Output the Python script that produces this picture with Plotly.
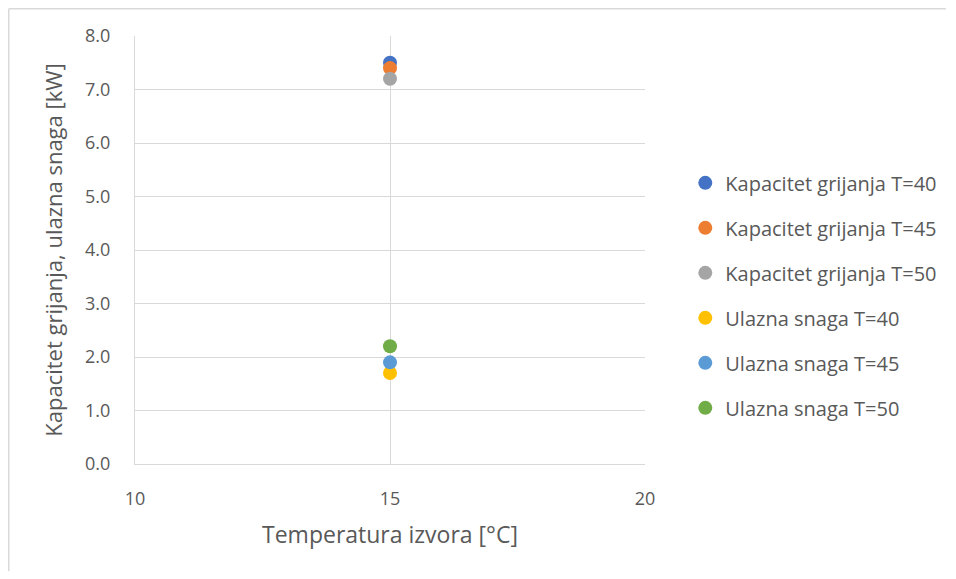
import plotly.graph_objects as go

# Series data
series_names = [
    "Kapacitet grijanja T=40",
    "Kapacitet grijanja T=45",
    "Kapacitet grijanja T=50",
    "Ulazna snaga T=40",
    "Ulazna snaga T=45",
    "Ulazna snaga T=50",
]
temperature = [15, 15, 15, 15, 15, 15]
power_kw = [7.5, 7.4, 7.2, 1.7, 1.9, 2.2]
colors = ["#4472C4", "#ED7D31", "#A5A5A5", "#FFC000", "#5B9BD5", "#70AD47"]

text_color = "#595959"
grid_color = "#D9D9D9"
font_family = "Open Sans, Noto Sans, sans-serif"

fig = go.Figure()

# One trace per series so the legend lists them all
for name, x, y, c in zip(series_names, temperature, power_kw, colors):
    fig.add_trace(go.Scatter(
        x=[x], y=[y],
        mode="markers",
        marker=dict(size=14, color=c),
        name=name,
        legendgroup=name,
    ))

# Outer chart border (Excel chart area) - only top and left edges are in view
border = dict(color="#D9D9D9", width=1.5)
fig.add_shape(type="line", xref="paper", yref="paper",
              x0=-0.2475, x1=1.59, y0=1.0637, y1=1.0637, line=border, layer="below")
fig.add_shape(type="line", xref="paper", yref="paper",
              x0=-0.2475, x1=-0.2475, y0=-0.3, y1=1.0637, line=border, layer="below")

# sized so the page (with its 8px body margin) does not overflow the window
fig.update_layout(
    width=940, height=563,
    margin=dict(l=127, r=303, t=28, b=107, autoexpand=False),
    paper_bgcolor="white",
    plot_bgcolor="white",
    font=dict(family=font_family, size=18, color=text_color),
    showlegend=True,
    legend=dict(
        x=1.079, y=0.394, xanchor="left", yanchor="middle",
        font=dict(size=20, color=text_color),
        tracegroupgap=16,
        itemwidth=30,
    ),
    xaxis=dict(
        range=[10, 20], dtick=5,
        showgrid=True, gridcolor=grid_color, gridwidth=1,
        zeroline=False, showline=True, linecolor=grid_color, linewidth=1,
        ticks="outside", ticklen=18, tickcolor="rgba(0,0,0,0)",
        tickfont=dict(size=18),
        title=dict(text="Temperatura izvora [°C]", font=dict(size=23), standoff=18),
    ),
    yaxis=dict(
        range=[0, 8], dtick=1, tickformat=".1f",
        showgrid=True, gridcolor=grid_color, gridwidth=1,
        zeroline=False, showline=True, linecolor=grid_color, linewidth=1,
        ticks="outside", ticklen=20, tickcolor="rgba(0,0,0,0)",
        tickfont=dict(size=18),
        title=dict(text="Kapacitet grijanja, ulazna snaga [kW]", font=dict(size=22), standoff=16),
    ),
)

fig.write_html("out.html")
